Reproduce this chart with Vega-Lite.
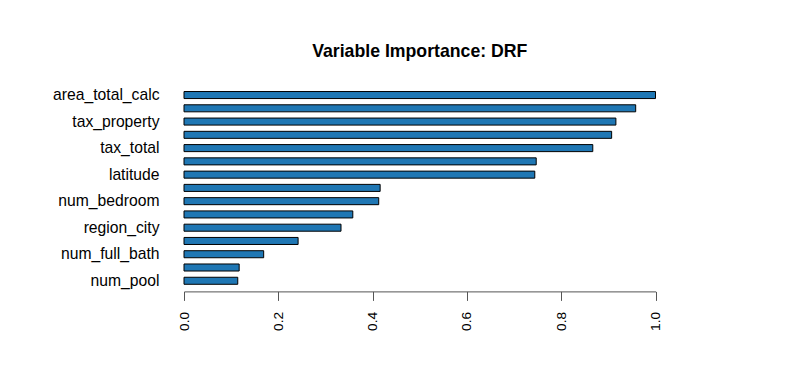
{
  "$schema": "https://vega.github.io/schema/vega-lite/v6.json",
  "autosize": "none",
  "padding": {"left": 184, "top": 88.4, "right": 153.5, "bottom": 91.6},
  "width": 471.5,
  "height": 199,
  "background": "white",
  "config": {"view": {"stroke": null}, "font": "Liberation Sans"},
  "title": {
    "text": "Variable Importance: DRF",
    "font": "Liberation Sans",
    "fontSize": 17.7,
    "fontWeight": "bold",
    "color": "black",
    "anchor": "middle",
    "baseline": "alphabetic",
    "offset": 12
  },
  "data": {
    "values": [
      {"variable": "area_total_calc", "rank": 1, "importance": 1.0},
      {"variable": "tax_building", "rank": 2, "importance": 0.958},
      {"variable": "tax_property", "rank": 3, "importance": 0.916},
      {"variable": "tax_land", "rank": 4, "importance": 0.907},
      {"variable": "tax_total", "rank": 5, "importance": 0.867},
      {"variable": "longitude", "rank": 6, "importance": 0.747},
      {"variable": "latitude", "rank": 7, "importance": 0.744},
      {"variable": "area_lot", "rank": 8, "importance": 0.416},
      {"variable": "num_bedroom", "rank": 9, "importance": 0.413},
      {"variable": "build_year", "rank": 10, "importance": 0.358},
      {"variable": "region_city", "rank": 11, "importance": 0.333},
      {"variable": "num_bathroom", "rank": 12, "importance": 0.242},
      {"variable": "num_full_bath", "rank": 13, "importance": 0.169},
      {"variable": "zoning_landuse", "rank": 14, "importance": 0.117},
      {"variable": "num_pool", "rank": 15, "importance": 0.114}
    ]
  },
  "mark": {"type": "bar", "fill": "#1F77B4", "stroke": "black", "strokeWidth": 1},
  "encoding": {
    "y": {
      "field": "variable",
      "type": "nominal",
      "sort": {"field": "rank", "order": "ascending"},
      "scale": {"paddingInner": 0.47, "paddingOuter": 0.235},
      "axis": {
        "title": null,
        "domain": false,
        "ticks": false,
        "labelPadding": 25,
        "labelFontSize": 15.7,
        "labelFont": "Liberation Sans",
        "labelColor": "black",
        "labelOverlap": false,
        "labelExpr": "indexof(['area_total_calc','tax_property','tax_total','latitude','num_bedroom','region_city','num_full_bath','num_pool'], datum.value) >= 0 ? datum.value : ''"
      }
    },
    "x": {
      "field": "importance",
      "type": "quantitative",
      "scale": {"domain": [0, 1], "nice": false, "zero": true},
      "axis": {
        "title": null,
        "grid": false,
        "values": [0, 0.2, 0.4, 0.6, 0.8, 1.0],
        "format": ".1f",
        "offset": 4,
        "tickSize": 9,
        "tickColor": "#555",
        "domainColor": "#555",
        "labelAngle": 270,
        "labelPadding": 11,
        "labelFontSize": 13.7,
        "labelFont": "Liberation Sans",
        "labelColor": "black",
        "labelOverlap": false,
        "labelFlush": false
      }
    }
  }
}
